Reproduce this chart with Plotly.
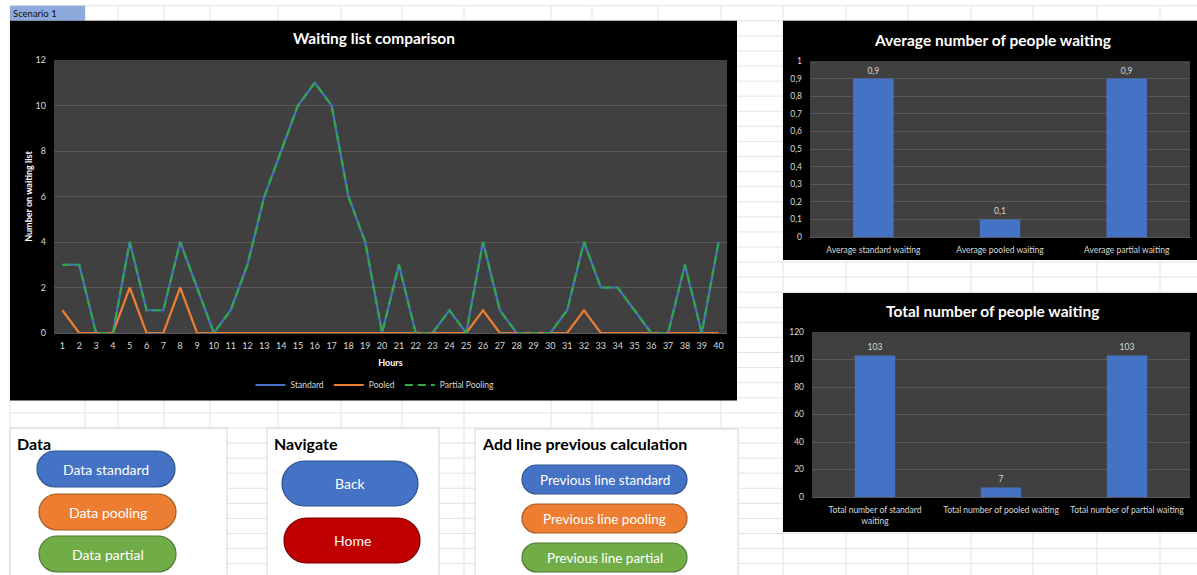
import plotly.graph_objects as go

# ---------------------------------------------------------------- data
hours = list(range(1, 41))
standard = [3, 3, 0, 0, 4, 1, 1, 4, 2, 0,
            1, 3, 6, 8, 10, 11, 10, 6, 4, 0,
            3, 0, 0, 1, 0, 4, 1, 0, 0, 0,
            1, 4, 2, 2, 1, 0, 0, 3, 0, 4]
pooled = [1, 0, 0, 0, 2, 0, 0, 2, 0, 0,
          0, 0, 0, 0, 0, 0, 0, 0, 0, 0,
          0, 0, 0, 0, 0, 1, 0, 0, 0, 0,
          0, 1, 0, 0, 0, 0, 0, 0, 0, 0]
partial = [3, 3, 0, 0, 4, 1, 1, 4, 2, 0,
           1, 3, 6, 8, 10, 11, 10, 6, 4, 0,
           3, 0, 0, 1, 0, 4, 1, 0, 0, 0,
           1, 4, 2, 2, 1, 0, 0, 3, 0, 4]

avg_labels = ["Average standard waiting", "Average pooled waiting", "Average partial waiting"]
avg_values = [0.9, 0.1, 0.9]

total_labels = ["Total number of standard waiting", "Total number of pooled waiting",
                "Total number of partial waiting"]
total_ticktext = ["Total number of standard<br>waiting", "Total number of pooled waiting",
                  "Total number of partial waiting"]
total_values = [103, 7, 103]

# ---------------------------------------------------------------- page geometry (pixels)
W, H = 1197, 575
FONT = "Lato, 'Open Sans', sans-serif"
BLUE, ORANGE, GREEN, RED = "#4472C4", "#ED7D31", "#70AD47", "#C00000"
LINE_GREEN = "#2FA84A"
TXT = "#D9D9D9"
GRID = "#595959"
PLOT_BG = "#404040"


def px(x):
    return x / W


def py(y):
    return 1 - y / H


shapes = []
annotations = []


def rect(x0, y0, x1, y1, fill, line=None, width=0):
    shapes.append(dict(type="rect", xref="paper", yref="paper", layer="below",
                       x0=px(x0), x1=px(x1), y0=py(y1), y1=py(y0),
                       fillcolor=fill,
                       line=dict(color=line or fill, width=width)))


def hline(x0, x1, y, color, width=1):
    shapes.append(dict(type="line", xref="paper", yref="paper", layer="below",
                       x0=px(x0), x1=px(x1), y0=py(y), y1=py(y),
                       line=dict(color=color, width=width)))


def vline(x, y0, y1, color, width=1):
    shapes.append(dict(type="line", xref="paper", yref="paper", layer="below",
                       x0=px(x), x1=px(x), y0=py(y0), y1=py(y1),
                       line=dict(color=color, width=width)))


def pill(x0, y0, x1, y1, fill, border, label, size):
    """Rounded button with semicircular ends, plus its caption."""
    r = (y1 - y0) / 2
    yc = (y0 + y1) / 2
    k = 0.5523 * r
    pts = [
        ("M", [(x0 + r, y0)]),
        ("L", [(x1 - r, y0)]),
        ("C", [(x1 - r + k, y0), (x1, yc - k), (x1, yc)]),
        ("C", [(x1, yc + k), (x1 - r + k, y1), (x1 - r, y1)]),
        ("L", [(x0 + r, y1)]),
        ("C", [(x0 + r - k, y1), (x0, yc + k), (x0, yc)]),
        ("C", [(x0, yc - k), (x0 + r - k, y0), (x0 + r, y0)]),
    ]
    path = " ".join(cmd + " " + " ".join(f"{px(a):.6f},{py(b):.6f}" for a, b in p)
                    for cmd, p in pts) + " Z"
    shapes.append(dict(type="path", xref="paper", yref="paper", layer="below",
                       path=path, fillcolor=fill, line=dict(color=border, width=1.2)))
    annotations.append(dict(xref="paper", yref="paper", x=px((x0 + x1) / 2), y=py(yc),
                            xanchor="center", yanchor="middle", showarrow=False,
                            text=label, font=dict(family=FONT, size=size, color="white")))


def label(x, y, text, size, color="black", bold=False, xanchor="left"):
    annotations.append(dict(xref="paper", yref="paper", x=px(x), y=py(y),
                            xanchor=xanchor, yanchor="middle", showarrow=False,
                            text=f"<b>{text}</b>" if bold else text,
                            font=dict(family=FONT, size=size, color=color)))


# ---------------------------------------------------------------- spreadsheet grid
CELL = "#E3E3E3"
col_x = [10, 85, 118, 164, 210, 278, 341, 402, 464, 551, 592, 658, 721,
         783, 846, 908, 971, 1033, 1097, 1160]
for cx in col_x:
    vline(cx, 5.7, H, CELL)
row_y = [5.7 + 15.08 * k for k in range(38)]
for ry in row_y:
    hline(10, W, ry, CELL)

# header cell
rect(10, 5.7, 85, 20.8, "#8EA9DB")
label(11, 13.5, "Scenario 1", 9.5, "#111111")

# control panels
rect(10, 428, 227, 580, "white", "#D4D4D4", 1)
rect(267, 428, 439, 580, "white", "#D4D4D4", 1)
rect(475, 429, 738, 580, "white", "#D4D4D4", 1)
label(15, 443, "Data", 16, bold=True)
label(272, 443, "Navigate", 16, bold=True)
label(480, 443, "Add line previous calculation", 16, bold=True)

pill(37, 451, 175, 487, BLUE, "#2F528F", "Data standard", 14)
pill(39, 494, 176, 530, ORANGE, "#A65A24", "Data pooling", 14)
pill(39, 536, 176, 572, GREEN, "#4E7A33", "Data partial", 14)
pill(282, 461, 418, 506, BLUE, "#2F528F", "Back", 14)
pill(284, 518, 420, 563, RED, "#7A0000", "Home", 14)
pill(522, 465, 687, 494, BLUE, "#2F528F", "Previous line standard", 13.5)
pill(522, 504, 687, 533, ORANGE, "#A65A24", "Previous line pooling", 13.5)
pill(522, 543, 687, 572, GREEN, "#4E7A33", "Previous line partial", 13.5)

# chart frames and plot-area backgrounds
rect(10, 20.8, 737, 400.5, "black")
rect(54, 60, 727, 333, PLOT_BG)
rect(783, 20.8, W + 2, 260, "black")
rect(810, 61, 1190, 237, PLOT_BG)
rect(783, 293, W + 2, 532, "black")
rect(812, 332, 1190, 497, PLOT_BG)

label(373.5, 38, "Waiting list comparison", 15.5, "white", bold=True, xanchor="center")
label(992, 40, "Average number of people waiting", 15.5, "white", bold=True, xanchor="center")
label(992, 311, "Total number of people waiting", 15.5, "white", bold=True, xanchor="center")

# ---------------------------------------------------------------- traces
fig = go.Figure()
fig.add_trace(go.Scatter(x=hours, y=standard, name="Standard", mode="lines",
                         line=dict(color=BLUE, width=2.2), xaxis="x", yaxis="y"))
fig.add_trace(go.Scatter(x=hours, y=pooled, name="Pooled", mode="lines",
                         line=dict(color=ORANGE, width=2.2), xaxis="x", yaxis="y"))
fig.add_trace(go.Scatter(x=hours, y=partial, name="Partial Pooling", mode="lines",
                         line=dict(color=LINE_GREEN, width=2.2, dash="8px,5px"),
                         xaxis="x", yaxis="y"))

fig.add_trace(go.Bar(x=avg_labels, y=avg_values, marker=dict(color=BLUE, line=dict(width=0)),
                     text=[f"{v:.1f}".replace(".", ",") for v in avg_values],
                     textposition="outside", cliponaxis=False,
                     textfont=dict(family=FONT, size=8.5, color=TXT),
                     showlegend=False, xaxis="x2", yaxis="y2"))
fig.add_trace(go.Bar(x=total_labels, y=total_values, marker=dict(color=BLUE, line=dict(width=0)),
                     text=[str(v) for v in total_values],
                     textposition="outside", cliponaxis=False,
                     textfont=dict(family=FONT, size=8.5, color=TXT),
                     showlegend=False, xaxis="x3", yaxis="y3"))

tick_font = dict(family=FONT, size=9, color=TXT)
small_font = dict(family=FONT, size=8.5, color=TXT)

fig.update_layout(
    width=W, height=H,
    margin=dict(l=0, r=0, t=0, b=0),
    paper_bgcolor="white",
    plot_bgcolor="rgba(0,0,0,0)",
    separators=",.",
    font=dict(family=FONT),
    bargap=0.68,
    shapes=shapes,
    annotations=annotations,
    showlegend=True,
    legend=dict(orientation="h", x=px(375), xanchor="center", y=py(385), yanchor="middle",
                font=dict(family=FONT, size=8.5, color=TXT), bgcolor="rgba(0,0,0,0)",
                itemwidth=30, traceorder="normal"),
    xaxis=dict(domain=[px(54), px(727)], range=[0.5, 40.5], tickvals=hours,
               tickfont=tick_font, showgrid=False, zeroline=False,
               showline=True, linecolor=GRID, linewidth=1, ticks="",
               ticklabelstandoff=4, anchor="y", automargin=False,
               title=dict(text="<b>Hours</b>", font=dict(family=FONT, size=9, color="white"),
                          standoff=9)),
    yaxis=dict(domain=[py(333), py(60)], range=[0, 12], dtick=2,
               tickfont=tick_font, gridcolor=GRID, zeroline=False, ticks="",
               ticklabelstandoff=7, anchor="x", automargin=False,
               title=dict(text="<b>Number on waiting list</b>",
                          font=dict(family=FONT, size=9, color="white"), standoff=1)),
    xaxis2=dict(domain=[px(810), px(1190)], type="category", tickfont=small_font,
                showgrid=False, zeroline=False, showline=True, linecolor=GRID, ticks="",
                ticklabelstandoff=5, anchor="y2", automargin=False),
    yaxis2=dict(domain=[py(237), py(61)], range=[0, 1], dtick=0.1, tickformat=".1~f",
                tickfont=small_font, gridcolor=GRID, zeroline=False, ticks="",
                ticklabelstandoff=7, anchor="x2", automargin=False),
    xaxis3=dict(domain=[px(812), px(1190)], type="category", tickfont=small_font,
                tickvals=total_labels, ticktext=total_ticktext,
                showgrid=False, zeroline=False, showline=True, linecolor=GRID, ticks="",
                ticklabelstandoff=5, anchor="y3", automargin=False),
    yaxis3=dict(domain=[py(497), py(332)], range=[0, 120], dtick=20,
                tickfont=small_font, gridcolor=GRID, zeroline=False, ticks="",
                ticklabelstandoff=7, anchor="x3", automargin=False),
)

fig.write_html("out.html")
